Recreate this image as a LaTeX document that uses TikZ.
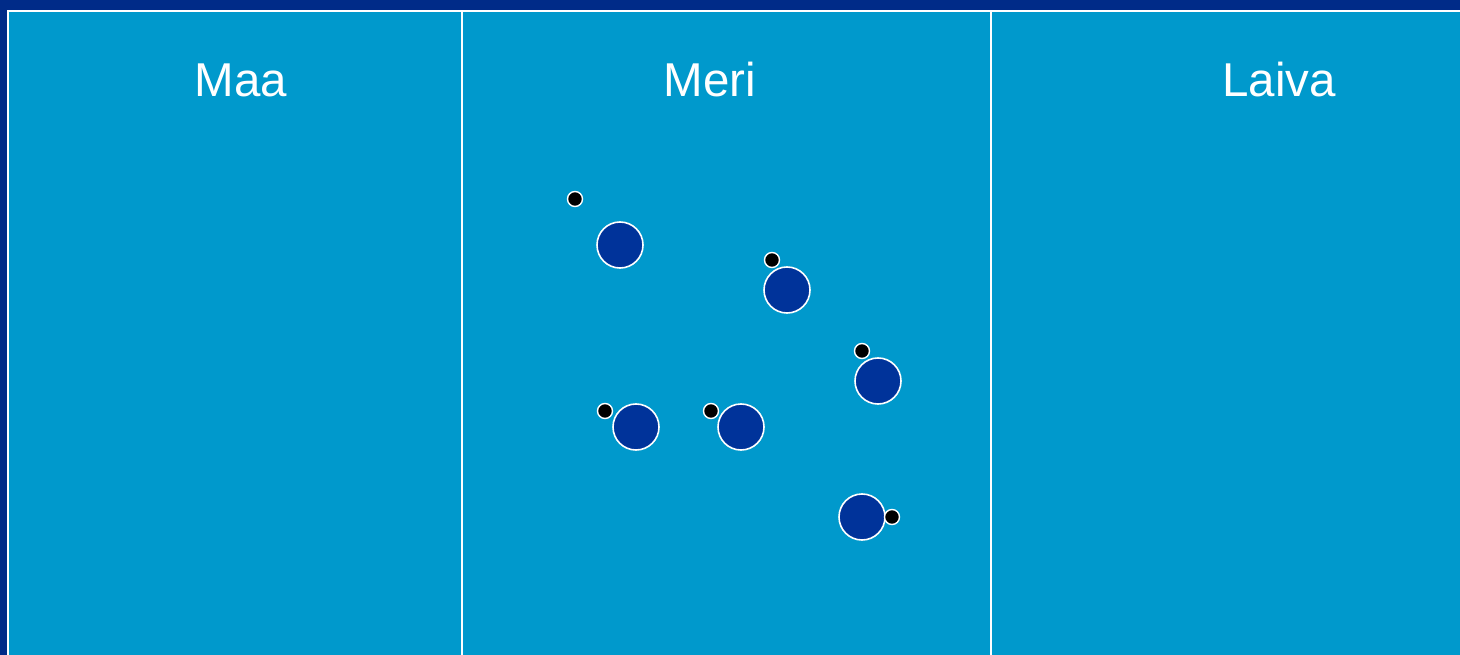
\documentclass[tikz,border=0pt]{standalone}
\usepackage{fontspec}
\setmainfont{Liberation Sans}
\usepackage{xcolor}
\usetikzlibrary{positioning}
\definecolor{frameblue}{HTML}{002B88}
\definecolor{seablue}{HTML}{0099CC}
\definecolor{ballblue}{HTML}{00339A}

\begin{document}
\begin{tikzpicture}[
  x=1pt, y=-1pt,
  every node/.style={font=\fontsize{47.5}{56}\selectfont, text=white},
  ball/.style={circle, draw=white, line width=1.6pt, fill=ballblue,
               minimum size=46pt, inner sep=0pt},
  dot/.style={circle, draw=white, line width=1.4pt, fill=black,
              minimum size=15pt, inner sep=0pt},
  divider/.style={draw=white, line width=1.5pt}
]
  % frame and field
  \fill[frameblue] (0,0) rectangle (1460,655);
  \useasboundingbox (0,0) rectangle (1460,655);
  \fill[seablue] (8,11) rectangle (1460,655);
  \draw[divider] (8,655) -- (8,11) -- (1460,11);
  \coordinate (d1t) at (462,11);
  \coordinate (d1b) at (462,655);
  \coordinate (d2t) at (991,11);
  \coordinate (d2b) at (991,655);
  \draw[divider] (d1t) -- (d1b);
  \draw[divider] (d2t) -- (d2b);

  % column titles
  \node (maa) at (241,80) {Maa};
  \node (meri) at (710,80) {Meri};
  \node (laiva) at (1279,80) {Laiva};

  % balls with their dots
  \node[ball] (b1) at (620,245) {};
  \node[ball] (b2) at (787,290) {};
  \node[ball] (b3) at (878,381) {};
  \node[ball] (b4) at (636,427) {};
  \node[ball] (b5) at (741,427) {};
  \node[ball] (b6) at (862,517) {};
  \node[dot] (p1) at (575,199) {};
  \node[dot] (p2) at (772,260) {};
  \node[dot] (p3) at (862,351) {};
  \node[dot] (p4) at (605,411) {};
  \node[dot] (p5) at (711,411) {};
  \node[dot] (p6) at (892,517) {};
\end{tikzpicture}
\end{document}
